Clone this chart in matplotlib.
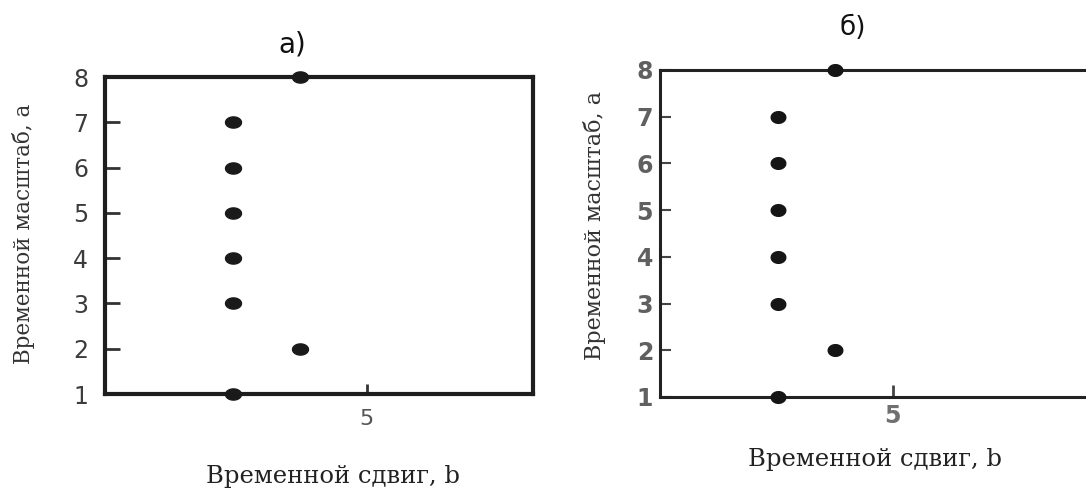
import matplotlib
matplotlib.use("Agg")
import matplotlib.pyplot as plt
import numpy as np
from matplotlib.path import Path

# Data
b_a = [3, 3, 3, 3, 3, 3, 4, 4]
a_a = [1, 3, 4, 5, 6, 7, 2, 8]
b_b = [3, 3, 3, 3, 3, 3, 4, 4]
a_b = [1, 3, 4, 5, 6, 7, 2, 8]
yticks = [1, 2, 3, 4, 5, 6, 7, 8]
xticks = [5]
titles = ["а)", "б)"]
xlabel = "Временной сдвиг, b"
ylabel = "Временной масштаб, a"

t = np.linspace(0, 2 * np.pi, 40)
ell_a = Path(np.column_stack([np.cos(t), 0.7 * np.sin(t)]))
ell_b = Path(np.column_stack([np.cos(t), 0.8 * np.sin(t)]))

fig = plt.figure(figsize=(10.86, 4.88), dpi=100)
ax1 = fig.add_axes([0.0967, 0.1926, 0.3941, 0.6496])
ax2 = fig.add_axes([0.6077, 0.1865, 0.4263, 0.6701])

serif = "DejaVu Serif"

# panel a
ax1.plot(b_a, a_a, linestyle="none", marker=ell_a, markersize=11.5,
         color="#1a1a1a", clip_on=False, zorder=5)
ax1.set_xlim(1.09, 7.48)
ax1.set_ylim(1, 8)
ax1.set_yticks(yticks)
ax1.set_xticks(xticks)
ax1.tick_params(axis="y", direction="in", length=11, width=2, color="#333333",
                labelsize=17, labelcolor="#3c3c3c", pad=12)
ax1.tick_params(axis="x", direction="in", length=7, width=2, color="#333333",
                labelsize=16, labelcolor="#555555", pad=11)
for s in ax1.spines.values():
    s.set_linewidth(3.0)
    s.set_color("#1e1e1e")

# panel b
ax2.plot(b_b, a_b, linestyle="none", marker=ell_b, markersize=10.5,
         color="#151515", clip_on=False, zorder=5)
ax2.set_xlim(0.95, 9.0)
ax2.set_ylim(1, 8)
ax2.set_yticks(yticks)
ax2.set_xticks(xticks)
ax2.tick_params(axis="y", direction="in", length=8, width=1.5, color="#444444",
                labelsize=17, labelcolor="#606060", pad=5)
ax2.tick_params(axis="x", direction="in", length=9, width=2, color="#444444",
                labelsize=17, labelcolor="#707070", pad=5)
for lab in ax2.get_yticklabels() + ax2.get_xticklabels():
    lab.set_fontweight("bold")
for s in ax2.spines.values():
    s.set_linewidth(2.2)
    s.set_color("#222222")

# labels
ax1.set_xlabel(xlabel, fontfamily=serif, fontsize=17.5, color="#222222")
ax1.xaxis.set_label_coords(0.533, -0.225)
ax1.set_ylabel(ylabel, fontfamily=serif, fontsize=15.5, color="#333333")
ax1.yaxis.set_label_coords(-0.1636, 0.505)

ax2.set_xlabel(xlabel, fontfamily=serif, fontsize=17.5, color="#222222")
ax2.xaxis.set_label_coords(0.464, -0.155)
ax2.set_ylabel(ylabel, fontfamily=serif, fontsize=16, color="#333333")
ax2.yaxis.set_label_coords(-0.1166, 0.523)

ax1.text(0.437, 1.101, titles[0], transform=ax1.transAxes, ha="center",
         va="center", fontsize=20, color="#111111")
ax2.text(0.417, 1.128, titles[1], transform=ax2.transAxes, ha="center",
         va="center", fontsize=19, color="#111111")

fig.savefig("out.png", dpi=100)
